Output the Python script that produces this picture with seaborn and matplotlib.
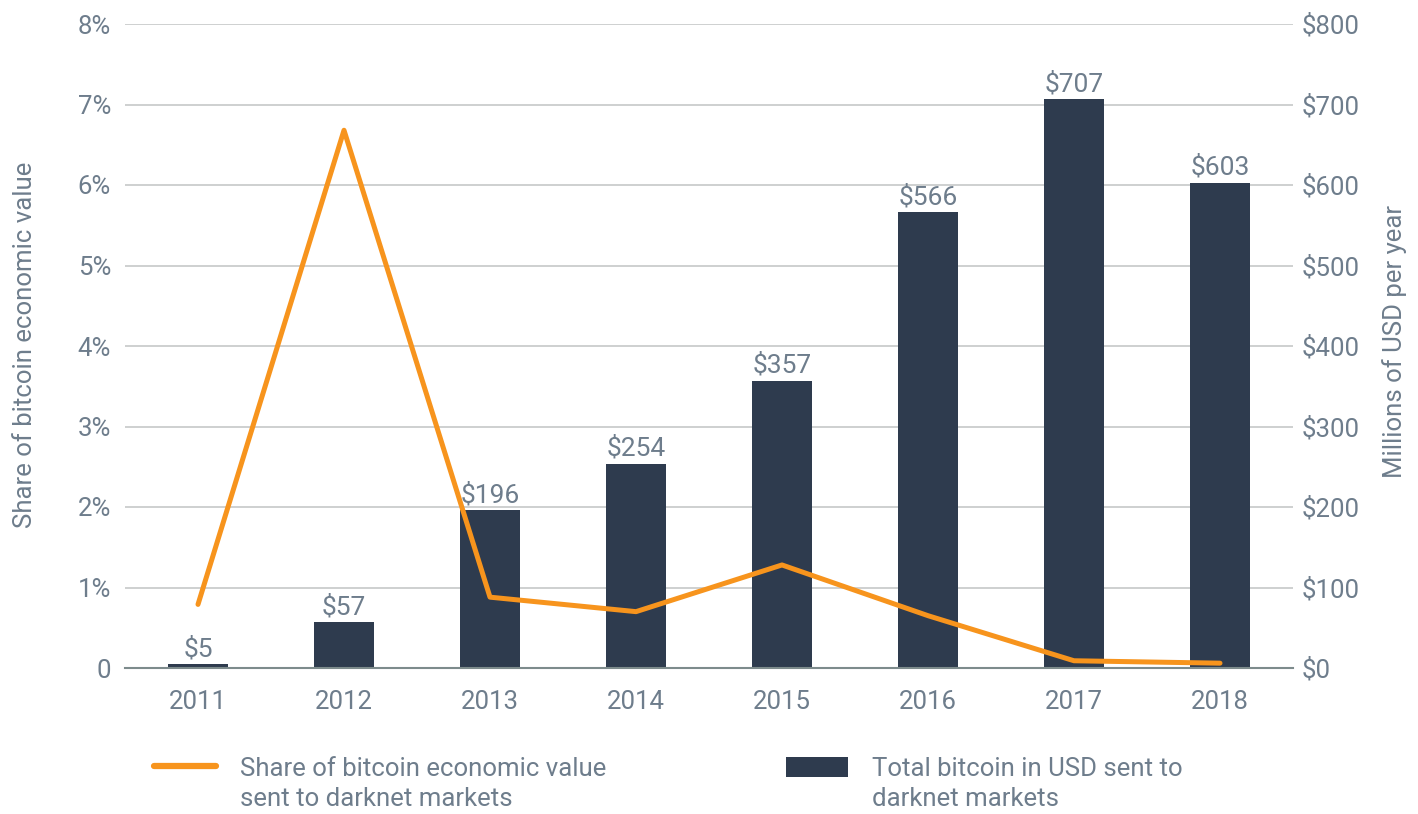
import matplotlib
matplotlib.use("Agg")
import matplotlib.pyplot as plt
import seaborn as sns
import pandas as pd
from matplotlib.lines import Line2D
from matplotlib.patches import Patch
from matplotlib.ticker import FixedLocator

years = ["2011", "2012", "2013", "2014", "2015", "2016", "2017", "2018"]
usd_millions = [5, 57, 196, 254, 357, 566, 707, 603]
share_pct = [0.79, 6.68, 0.88, 0.70, 1.28, 0.65, 0.09, 0.06]
left_ticks = [0, 1, 2, 3, 4, 5, 6, 7, 8]
left_labels = ["0", "1%", "2%", "3%", "4%", "5%", "6%", "7%", "8%"]
right_ticks = [0, 100, 200, 300, 400, 500, 600, 700, 800]
right_labels = ["$0", "$100", "$200", "$300", "$400", "$500", "$600", "$700", "$800"]
label_line = "Share of bitcoin economic value\nsent to darknet markets"
label_bar = "Total bitcoin in USD sent to\ndarknet markets"
ylabel_left = "Share of bitcoin economic value"
ylabel_right = "Millions of USD per year"

ORANGE = "#F7941D"
NAVY = "#2E3B4E"
TEXT = "#6E7D8C"
GRID = "#C6C8C8"
AXIS = "#7D8B8C"
FS = 18.5

sns.set_theme(style="white")
plt.rcParams["font.family"] = ["Roboto", "DejaVu Sans"]
plt.rcParams["font.weight"] = "normal"

df = pd.DataFrame({"year": years, "usd": usd_millions, "share": share_pct})

fig = plt.figure(figsize=(14.18, 8.14), dpi=100)
ax_bar = fig.add_axes([125 / 1418, 1 - 668 / 814, 1168 / 1418, (668 - 24) / 814])
ax_line = ax_bar.twinx()

# bars on right scale
sns.barplot(data=df, x="year", y="usd", ax=ax_bar, color=NAVY, width=0.41,
            saturation=1, edgecolor="none", zorder=2)
ax_bar.set_ylim(0, 800)
ax_bar.set_xlim(-0.5, 7.5)
ax_bar.yaxis.tick_right()
ax_bar.yaxis.set_major_locator(FixedLocator(right_ticks))
ax_bar.set_yticklabels(right_labels)
ax_bar.grid(axis="y", color=GRID, linewidth=1.2, zorder=0)
ax_bar.set_axisbelow(True)
ax_bar.set_xlabel("")
ax_bar.set_ylabel("")
for c in ax_bar.containers:
    ax_bar.bar_label(c, labels=[f"${v}" for v in usd_millions], padding=2,
                     fontsize=FS + 0.5, color=TEXT)

# line on left scale
sns.pointplot(data=df, x="year", y="share", ax=ax_line, color=ORANGE,
              markers="", linewidth=3.6, errorbar=None)
ax_line.set_ylim(0, 8)
ax_line.set_xlim(-0.5, 7.5)
ax_line.yaxis.tick_left()
ax_line.yaxis.set_major_locator(FixedLocator(left_ticks))
ax_line.set_yticklabels(left_labels)
ax_line.set_xlabel("")
ax_line.set_ylabel("")
ax_line.set_zorder(ax_bar.get_zorder() + 1)
ax_line.patch.set_visible(False)

for a in (ax_bar, ax_line):
    for s in ("top", "left", "right", "bottom"):
        a.spines[s].set_visible(False)
ax_bar.spines["bottom"].set_visible(True)
ax_bar.spines["bottom"].set_color(AXIS)
ax_bar.spines["bottom"].set_linewidth(1.5)

ax_bar.tick_params(axis="y", length=0, pad=6, labelsize=FS, labelcolor=TEXT)
ax_line.tick_params(axis="y", length=0, pad=10, labelsize=FS, labelcolor=TEXT)
ax_line.tick_params(axis="x", length=0, labelbottom=False)
ax_bar.set_xticks(range(len(years)))
ax_bar.set_xticklabels(years)
ax_bar.set_xticks([i - 0.5 for i in range(len(years) + 1)], minor=True)
ax_bar.tick_params(axis="x", which="both", direction="inout", length=12,
                   width=1.5, color=AXIS, labelsize=FS, labelcolor=TEXT, pad=10)

fig.text(25 / 1418, 1 - 345 / 814, ylabel_left, rotation=90, ha="center",
         va="center", fontsize=FS, color=TEXT)
fig.text(1395 / 1418, 1 - 341 / 814, ylabel_right, rotation=90, ha="center",
         va="center", fontsize=FS, color=TEXT)

handles = [Line2D([0], [0], color=ORANGE, linewidth=4.5),
           Patch(facecolor=NAVY, edgecolor="none")]
leg = fig.legend(handles, [label_line, label_bar], ncol=2, frameon=False,
                 loc="upper left", bbox_to_anchor=(154 / 1418, 1 - 757 / 814),
                 fontsize=FS, handlelength=2.4, handleheight=0.8,
                 handletextpad=0.95, columnspacing=7.0, borderpad=0,
                 borderaxespad=0)
for t in leg.get_texts():
    t.set_color(TEXT)
    t.set_linespacing(1.3)
# align handles with the first line of each label
for col in leg._legend_handle_box.get_children():
    for row in col.get_children():
        row.align = "top"

fig.savefig("out.png", dpi=100, facecolor="white")
